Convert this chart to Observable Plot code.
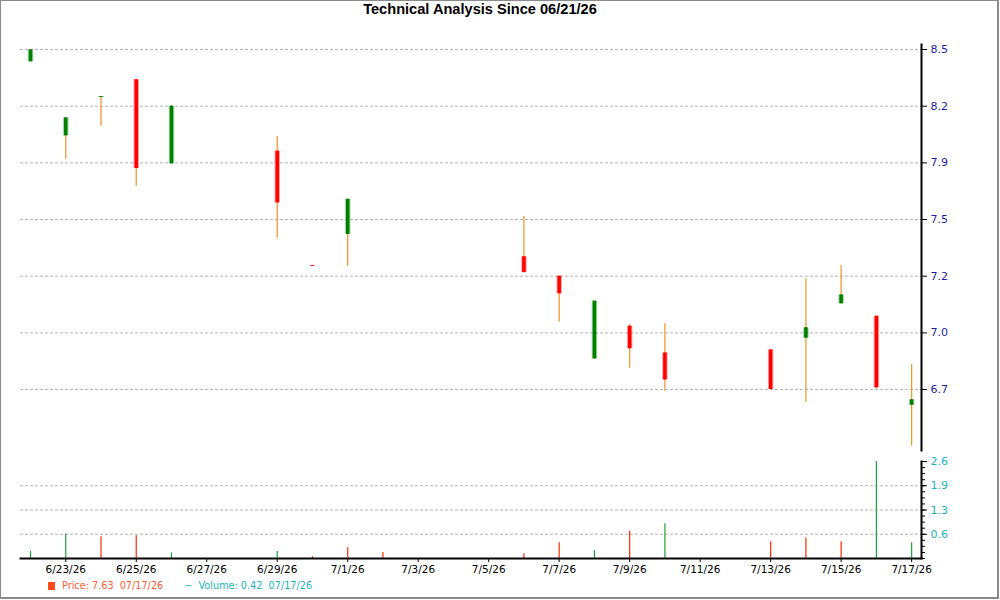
<!DOCTYPE html>
<html>
<head>
<meta charset="utf-8">
<script src="https://cdn.jsdelivr.net/npm/d3@7"></script>
<script src="https://cdn.jsdelivr.net/npm/@observablehq/plot@0.6"></script>
<style>
  html, body { margin: 0; padding: 0; background: #fff; }
  #wrap { position: relative; width: 1000px; height: 600px; overflow: hidden; font-family: "DejaVu Sans", sans-serif; }
  #border { position: absolute; left: 0; top: 0; width: 999px; height: 599px; box-sizing: border-box; border: 1px solid #8a8a8a; border-right-width: 2px; border-bottom-width: 2px; pointer-events: none; }
  #title { position: absolute; top: 1px; left: 0; width: 960px; text-align: center; font: bold 14.6px "Liberation Sans", Arial, sans-serif; color: #000; }
  #price { position: absolute; left: 0; top: 30px; }
  #volume { position: absolute; left: 0; top: 451px; }
  #legend { position: absolute; top: 580px; left: 48px; font-size: 9.7px; white-space: pre; }
  .sq { display: inline-block; width: 7px; height: 8px; background: #ff4a1c; margin-right: 7px; vertical-align: -1px; }
</style>
</head>
<body>
<div id="wrap">
  <div id="title">Technical Analysis Since 06/21/26</div>
  <div id="price"></div>
  <div id="volume"></div>
  <div id="legend"><span class="sq"></span><span style="color:#ff5a36">Price: 7.63  07/17/26</span><span style="color:#1ab4bc;margin-left:21px">−  Volume: 0.42  07/17/26</span></div>
  <div id="border"></div>
</div>
<script>
// ---- data ----
const dates  = ["2026-06-22","2026-06-23","2026-06-24","2026-06-25","2026-06-26","2026-06-29","2026-06-30","2026-07-01","2026-07-02","2026-07-06","2026-07-07","2026-07-08","2026-07-09","2026-07-10","2026-07-13","2026-07-14","2026-07-15","2026-07-16","2026-07-17"];
const opens  = [8.435, 8.043, 8.246, 8.340, 7.895, 7.962, 7.357, 7.521, null, 7.403, 7.300, 6.862, 7.035, 6.894, 6.910, 6.972, 7.154, 7.088, 6.617];
const highs  = [8.498, 8.138, 8.251, 8.340, 8.200, 8.039, 7.357, 7.707, null, 7.616, 7.300, 7.168, 7.044, 7.048, 6.910, 7.286, 7.356, 7.088, 6.832];
const lows   = [8.435, 7.919, 8.094, 7.776, 7.895, 7.501, 7.353, 7.353, null, 7.319, 7.056, 6.862, 6.813, 6.691, 6.700, 6.633, 7.154, 6.709, 6.400];
const closes = [8.498, 8.138, 8.251, 7.870, 8.200, 7.688, 7.353, 7.707, null, 7.319, 7.207, 7.168, 6.916, 6.751, 6.700, 7.027, 7.201, 6.709, 6.646];
const volumes = [0.19, 0.66, 0.58, 0.61, 0.15, 0.19, 0.05, 0.29, 0.16, 0.13, 0.42, 0.21, 0.74, 0.93, 0.45, 0.55, 0.45, 2.60, 0.42];
const volumeDir = ["up","up","down","down","up","up","down","down","down","down","down","up","down","up","down","down","down","up","up"];

const priceTicks  = [8.5, 8.2, 7.9, 7.6, 7.3, 7.0, 6.7];
const priceLabels = ["8.5","8.2","7.9","7.5","7.2","7.0","6.7"];
const volTicks  = [0.65, 1.3, 1.95, 2.6];
const volLabels = ["0.6","1.3","1.9","2.6"];
const xTickDates  = ["2026-06-23","2026-06-25","2026-06-27","2026-06-29","2026-07-01","2026-07-03","2026-07-05","2026-07-07","2026-07-09","2026-07-11","2026-07-13","2026-07-15","2026-07-17"];
const xTickLabels = ["6/23/26","6/25/26","6/27/26","6/29/26","7/1/26","7/3/26","7/5/26","7/7/26","7/9/26","7/11/26","7/13/26","7/15/26","7/17/26"];

// ---- build tables ----
const rows = dates.map((d, i) => ({
  date: new Date(d), open: opens[i], high: highs[i], low: lows[i], close: closes[i],
  volume: volumes[i], vdir: volumeDir[i]
}));
const candles = rows.filter(r => r.open != null);
const xTicks = xTickDates.map(d => new Date(d));
const DAY = 864e5;
const xDomain = [new Date(+new Date(dates[0]) - 0.284 * DAY), new Date(+new Date(dates[dates.length - 1]) + 0.28 * DAY)];

const GREEN = "#008000", RED = "#ff0000", WICK = "#ee9a35";
const fmtX = d => xTickLabels[xTicks.findIndex(t => +t === +d)];

const price = Plot.plot({
  width: 1000, height: 422,
  marginTop: 14, marginBottom: 2, marginLeft: 20, marginRight: 79,
  style: { fontFamily: "DejaVu Sans", fontSize: "10.5px", background: "transparent", overflow: "visible" },
  x: { type: "utc", domain: xDomain, axis: null },
  y: { domain: [6.3775, 8.5265], axis: null },
  marks: [
    Plot.gridY(priceTicks, { stroke: "#b4b4b4", strokeOpacity: 1, strokeDasharray: "3,2" }),
    Plot.ruleX(candles, { x: "date", y1: "low", y2: "high", stroke: WICK, strokeWidth: 1.3 }),
    Plot.ruleX(candles, { x: "date", y1: "open", y2: "close", stroke: d => d.close >= d.open ? GREEN : RED, strokeWidth: 5.5, strokeOpacity: 0.35 }),
    Plot.ruleX(candles, { x: "date", y1: "open", y2: "close", stroke: d => d.close >= d.open ? GREEN : RED, strokeWidth: 3.5 }),
    Plot.frame({ anchor: "right", stroke: "#000", strokeWidth: 2 }),
    Plot.axisY(priceTicks, { anchor: "right", tickSize: 5, tickPadding: 4, tickFormat: d => priceLabels[priceTicks.indexOf(d)], fill: "#1e1ea8", stroke: "#000", fontSize: 11, label: null })
  ]
});
document.getElementById("price").appendChild(price);

const minorVolTicks = d3.range(0, 2.6001, 0.1625);
const volume = Plot.plot({
  width: 1000, height: 130,
  marginTop: 10, marginBottom: 23, marginLeft: 20, marginRight: 79,
  style: { fontFamily: "DejaVu Sans", fontSize: "10.5px", background: "transparent", overflow: "visible" },
  x: { type: "utc", domain: xDomain, axis: null },
  y: { domain: [0, 2.6], axis: null },
  marks: [
    Plot.gridY(volTicks.slice(0, 3), { stroke: "#b4b4b4", strokeOpacity: 1, strokeDasharray: "3,2" }),
    Plot.ruleX(rows, { x: "date", y1: 0, y2: "volume", stroke: d => d.vdir === "up" ? "#1aa53a" : "#ff2a00", strokeWidth: 1.2 }),
    Plot.axisY(minorVolTicks, { anchor: "right", tickSize: 3, text: null, stroke: "#000", label: null }),
    Plot.axisY(volTicks, { anchor: "right", tickSize: 5, tickPadding: 4, tickFormat: d => volLabels[volTicks.indexOf(d)], fill: "#1ab4bc", stroke: "#000", fontSize: 11, label: null }),
    Plot.frame({ anchor: "right", stroke: "#000", strokeWidth: 2 }),
    Plot.frame({ anchor: "bottom", stroke: "#000", strokeWidth: 2 }),
    Plot.axisX(xTicks, { anchor: "bottom", tickSize: 4, tickPadding: 3, tickFormat: fmtX, fill: "#000", stroke: "#000", fontSize: 10.5, label: null })
  ]
});
document.getElementById("volume").appendChild(volume);
</script>
</body>
</html>
